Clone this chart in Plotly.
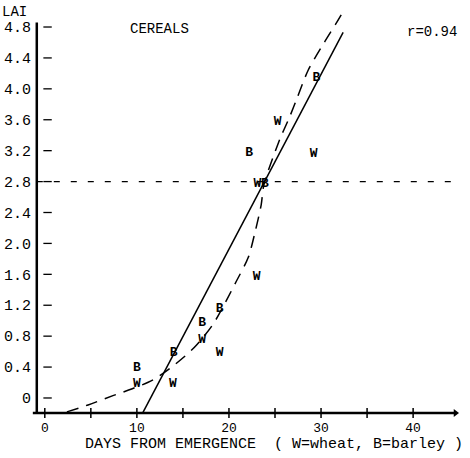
import plotly.graph_objects as go

# ---- data ----
wheat_days = [10.0, 13.9, 19.0, 17.1, 23.0, 23.1, 25.3, 29.2]
wheat_lai = [0.18, 0.18, 0.58, 0.76, 1.57, 2.77, 3.57, 3.16]
barley_days = [10.0, 14.0, 17.1, 19.0, 22.2, 23.9, 29.5]
barley_lai = [0.39, 0.58, 0.97, 1.16, 3.17, 2.77, 4.15]

# fitted straight line (solid)
line_days = [10.65, 32.4]
line_lai = [-0.19, 4.73]

# freehand curve (dashed)
curve_days = [2.4, 4.7, 7.4, 9.5, 11.7, 14.2, 16.2, 18.3, 20.8, 22.1, 22.8, 23.5,
              23.8, 25.5, 26.6, 27.4, 28.6, 30.3, 31.6, 32.3]
curve_lai = [-0.18, -0.09, 0.03, 0.12, 0.23, 0.44, 0.65, 0.96, 1.51, 1.82, 2.13, 2.50,
             2.76, 3.34, 3.64, 3.88, 4.24, 4.59, 4.84, 4.98]

ref_lai = 2.8
r_text = "r=0.94"

x_tick_vals = [0, 10, 20, 30, 40]
x_tick_text = ["0", "10", "20", "30", "40"]
x_minor = [0, 5, 10, 15, 20, 25, 30, 35, 40]
y_tick_vals = [0, 0.4, 0.8, 1.2, 1.6, 2.0, 2.4, 2.8, 3.2, 3.6, 4.0, 4.4, 4.8]
y_tick_text = ["0", "0.4", "0.8", "1.2", "1.6", "2.0", "2.4", "2.8", "3.2", "3.6", "4.0", "4.4", "4.8"]

FONT = "Liberation Mono"
X_RANGE = [-1.39, 45.2]
Y_RANGE = [-0.259, 5.046]
Y_AXIS_X = -0.87
X_AXIS_Y = -0.194

fig = go.Figure()

# reference horizontal dashed line
fig.add_trace(go.Scatter(x=[Y_AXIS_X, 45.2], y=[ref_lai, ref_lai], mode="lines",
                         line=dict(color="black", width=1.3, dash="6px,11px"),
                         hoverinfo="skip", showlegend=False))
# dashed curve
fig.add_trace(go.Scatter(x=curve_days, y=curve_lai, mode="lines",
                         line=dict(color="black", width=1.5, dash="12px,8px", shape="spline",
                                   smoothing=0.8),
                         showlegend=False))
# solid line
fig.add_trace(go.Scatter(x=line_days, y=line_lai, mode="lines",
                         line=dict(color="black", width=1.5), showlegend=False))

# axis lines
fig.add_trace(go.Scatter(x=[Y_AXIS_X, Y_AXIS_X], y=[X_AXIS_Y, 4.86], mode="lines",
                         line=dict(color="black", width=2.5), showlegend=False))
fig.add_trace(go.Scatter(x=[-1.3, 44.6], y=[X_AXIS_Y, X_AXIS_Y], mode="lines",
                         line=dict(color="black", width=2.5), showlegend=False))
fig.add_trace(go.Scatter(x=[44.6], y=[X_AXIS_Y], mode="markers",
                         marker=dict(symbol="triangle-right", size=7, color="black"),
                         showlegend=False))
# x ticks (+)
fig.add_trace(go.Scatter(x=x_minor, y=[X_AXIS_Y] * len(x_minor), mode="markers",
                         marker=dict(symbol="cross-thin", size=7,
                                     line=dict(color="black", width=1.5)),
                         showlegend=False))
# y ticks (small dashes)
fig.add_trace(go.Scatter(x=[0.3] * len(y_tick_vals), y=y_tick_vals, mode="markers",
                         marker=dict(symbol="line-ew", size=6,
                                     line=dict(color="black", width=1.3)),
                         showlegend=False))

# letters
fig.add_trace(go.Scatter(x=wheat_days, y=wheat_lai, mode="text", text=["W"] * len(wheat_days),
                         textfont=dict(family=FONT, size=13, color="black", weight="bold"),
                         showlegend=False))
fig.add_trace(go.Scatter(x=barley_days, y=barley_lai, mode="text", text=["B"] * len(barley_days),
                         textfont=dict(family=FONT, size=13, color="black", weight="bold"),
                         showlegend=False))

fig.add_annotation(text="LAI", xref="paper", yref="paper", x=-0.04, y=1.0, xanchor="center",
                   yanchor="middle", yshift=-4, showarrow=False,
                   font=dict(family=FONT, size=14, color="black"))
fig.add_annotation(text="CEREALS", x=12.5, y=4.78, showarrow=False, xanchor="center",
                   font=dict(family=FONT, size=14, color="black"))
fig.add_annotation(text=r_text, x=42.1, y=4.74, showarrow=False, xanchor="center",
                   font=dict(family=FONT, size=14, color="black"))
fig.add_annotation(text="DAYS FROM EMERGENCE\u00a0\u00a0( W=wheat, B=barley )",
                   x=24.9, y=X_AXIS_Y, yshift=-32, showarrow=False, xanchor="center",
                   yanchor="middle", font=dict(family=FONT, size=15, color="black"))

fig.update_layout(
    width=470, height=458,
    margin=dict(l=32, r=9, t=8, b=40),
    paper_bgcolor="white", plot_bgcolor="white",
    showlegend=False,
    xaxis=dict(range=X_RANGE, showgrid=False, zeroline=False, showline=False,
               tickvals=x_tick_vals, ticktext=x_tick_text, ticks="", automargin=False,
               tickfont=dict(family=FONT, size=13, color="black"), ticklabelstandoff=0),
    yaxis=dict(range=Y_RANGE, showgrid=False, zeroline=False, showline=False,
               tickvals=y_tick_vals, ticktext=y_tick_text, ticks="", automargin=False,
               tickfont=dict(family=FONT, size=15, color="black"), ticklabelstandoff=0),
)

fig.write_html("out.html", config={"displayModeBar": False},
               post_script="document.body.style.margin='0';document.body.style.overflow='hidden';")
